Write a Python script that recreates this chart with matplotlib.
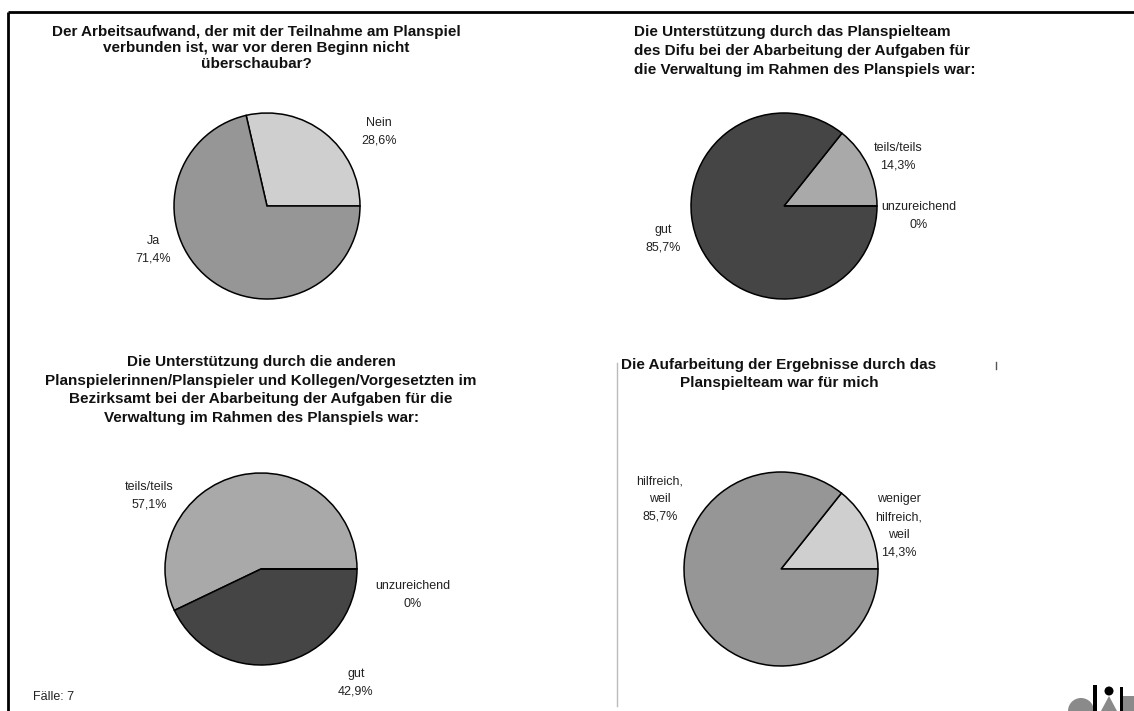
import matplotlib
matplotlib.use("Agg")
import matplotlib.pyplot as plt
from matplotlib.patches import Circle, Polygon, Rectangle, Wedge

plt.rcParams["font.family"] = ["Liberation Sans", "DejaVu Sans"]

W, H = 1134, 711

# --- survey results (share of answers in %) ---
titles = [
    "Der Arbeitsaufwand, der mit der Teilnahme am Planspiel\nverbunden ist, war vor deren Beginn nicht\nüberschaubar?",
    "Die Unterstützung durch das Planspielteam\ndes Difu bei der Abarbeitung der Aufgaben für\ndie Verwaltung im Rahmen des Planspiels war:",
    "Die Unterstützung durch die anderen\nPlanspielerinnen/Planspieler und Kollegen/Vorgesetzten im\nBezirksamt bei der Abarbeitung der Aufgaben für die\nVerwaltung im Rahmen des Planspiels war:",
    "Die Aufarbeitung der Ergebnisse durch das\nPlanspielteam war für mich",
]

labels_1 = ["Nein", "Ja"]
values_1 = [28.6, 71.4]
colors_1 = ["#cfcfcf", "#969696"]

labels_2 = ["teils/teils", "gut", "unzureichend"]
values_2 = [14.3, 85.7, 0.0]
colors_2 = ["#a9a9a9", "#454545", "#ffffff"]

labels_3 = ["teils/teils", "gut", "unzureichend"]
values_3 = [57.1, 42.9, 0.0]
colors_3 = ["#a9a9a9", "#454545", "#ffffff"]

labels_4 = ["weniger\nhilfreich,\nweil", "hilfreich,\nweil"]
values_4 = [14.3, 85.7]
colors_4 = ["#cfcfcf", "#969696"]

cases = 7

fig = plt.figure(figsize=(W / 100, H / 100), dpi=100)
ax = fig.add_axes([0, 0, 1, 1])
ax.set_xlim(0, W)
ax.set_ylim(0, H)
ax.set_aspect("equal")
ax.axis("off")


def py(y):
    # pixel row (top = 0) -> data y
    return H - y


def pct(v):
    if v == int(v):
        return f"{int(v)}%"
    return f"{v:.1f}%".replace(".", ",")


def draw_pie(values, colors, labels, cx, cy, r, label_pos):
    ax.pie(values, colors=colors, startangle=0, counterclock=True,
           center=(cx, py(cy)), radius=r, frame=True,
           wedgeprops=dict(edgecolor="black", linewidth=1.1))
    for lab, v, (lx, ly) in zip(labels, values, label_pos):
        ax.text(lx, py(ly), f"{lab}\n{pct(v)}", ha="center", va="center",
                fontsize=9, color="#222222", linespacing=1.65)


# frame lines around the page
ax.plot([8, W], [py(12), py(12)], color="black", lw=2, solid_capstyle="butt")
ax.plot([8, 8], [py(12), 0], color="black", lw=2, solid_capstyle="butt")
ax.plot([617, 617], [py(363), py(706)], color="#bbbbbb", lw=1)
ax.plot([996, 996], [py(362), py(369)], color="#555555", lw=1)

# titles
tkw = dict(fontsize=11, fontweight="bold", color="#111111")
ax.text(256, py(48), titles[0], ha="center", va="center", multialignment="center",
        linespacing=1.2, **tkw)
ax.text(634, py(51), titles[1], ha="left", va="center", multialignment="left",
        linespacing=1.45, **tkw)
ax.text(261, py(390), titles[2], ha="center", va="center", multialignment="center",
        linespacing=1.45, **tkw)
ax.text(779, py(374), titles[3], ha="center", va="center", multialignment="center",
        linespacing=1.45, **tkw)

draw_pie(values_1, colors_1, labels_1, 267, 206, 93,
         [(379, 132), (153, 250)])
draw_pie(values_2, colors_2, labels_2, 784, 206, 93,
         [(898, 157), (663, 239), (919, 216)])
draw_pie(values_3, colors_3, labels_3, 261, 569, 96,
         [(149, 496), (356, 683), (413, 595)])
draw_pie(values_4, colors_4, labels_4, 781, 569, 97,
         [(899, 526), (660, 499)])

ax.text(33, py(697), f"Fälle: {cases}", ha="left", va="center",
        fontsize=9, color="#222222")

# difu logo, cut off at the page corner
grey = "#8a8a8a"
ax.add_patch(Wedge((1081, py(711)), 13, 0, 180, color=grey, lw=0))
ax.add_patch(Rectangle((1093, 0), 3.5, py(685), color="black", lw=0))
ax.add_patch(Circle((1109, py(691)), 4.5, color="black", lw=0))
ax.add_patch(Polygon([(1101, 0), (1117, 0), (1109, py(696))], color=grey, lw=0))
ax.add_patch(Rectangle((1119.5, 0), 3, py(687), color="black", lw=0))
ax.add_patch(Rectangle((1123, 0), 11, py(696), color=grey, lw=0))

ax.set_xlim(0, W)
ax.set_ylim(0, H)

fig.savefig("out.png", dpi=100, facecolor="white")
